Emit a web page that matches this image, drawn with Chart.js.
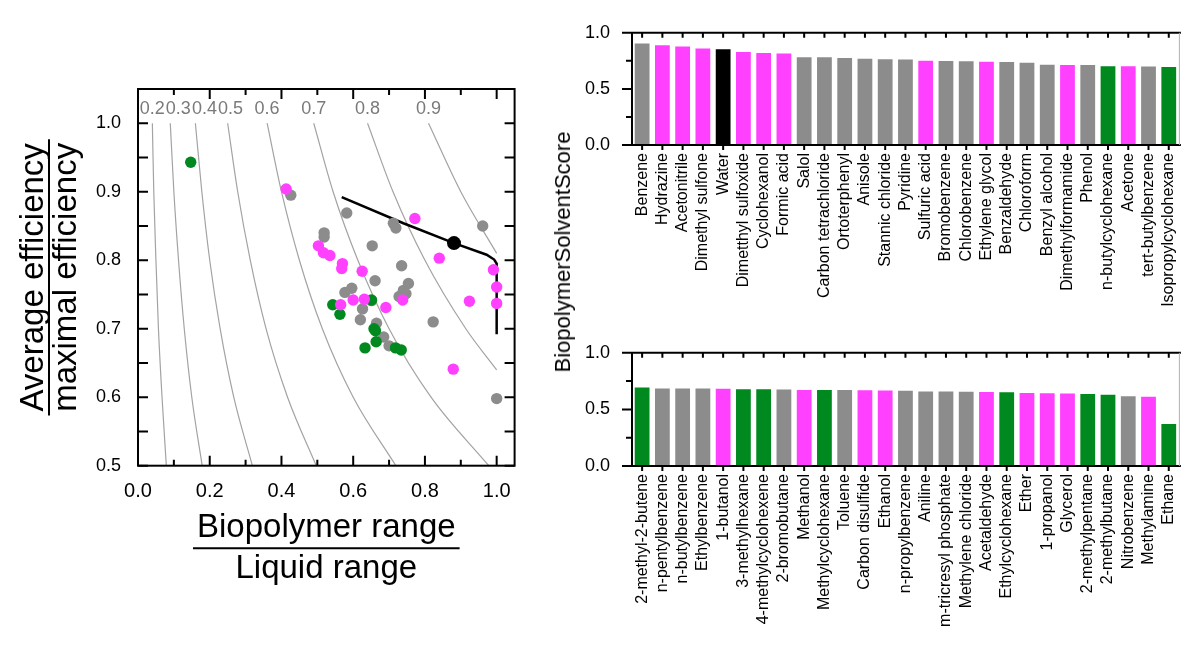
<!DOCTYPE html>
<html>
<head>
<meta charset="utf-8">
<title>Biopolymer solvent score</title>
<script src="https://cdn.jsdelivr.net/npm/chart.js@4.4.0/dist/chart.umd.min.js"></script>
<style>
    html, body { margin: 0; padding: 0; background: #fff; }
    body { width: 1196px; height: 646px; position: relative; overflow: hidden;
           font-family: "Liberation Sans", Arial, Helvetica, sans-serif; }
    canvas { position: absolute; }
    #scatterCanvas { left: 0; top: 0; }
    #topCanvas { left: 540px; top: 0; }
    #bottomCanvas { left: 540px; top: 320px; }
    #scoreTitle { position: absolute; left: 563px; top: 252px; font-size: 22px; white-space: nowrap;
                  transform: translate(-50%, -50%) rotate(-90deg); color: #000; }
</style>
</head>
<body>
<canvas id="scatterCanvas" width="560" height="646"></canvas>
<canvas id="topCanvas" width="656" height="320"></canvas>
<canvas id="bottomCanvas" width="656" height="326"></canvas>
<div id="scoreTitle">BiopolymerSolventScore</div>
<script>
// Scatter: x = biopolymer range / liquid range, y = average / maximal efficiency
const otherX = [0.426, 0.582, 0.712, 0.719, 0.961, 0.653, 0.519, 0.519, 0.735, 0.661, 0.754, 0.740,
                0.728, 0.747, 0.577, 0.596, 0.651, 0.626, 0.620, 0.665, 0.685, 0.700, 0.823, 1.000];
const otherY = [0.895, 0.869, 0.854, 0.847, 0.850, 0.821, 0.840, 0.834, 0.792, 0.770, 0.766, 0.756,
                0.747, 0.751, 0.753, 0.759, 0.741, 0.729, 0.713, 0.708, 0.688, 0.675, 0.710, 0.598];
const polarX = [0.413, 0.772, 0.503, 0.517, 0.535, 0.570, 0.568, 0.625, 0.840, 0.991, 1.000, 1.000,
                0.924, 0.565, 0.600, 0.631, 0.691, 0.738, 0.879];
const polarY = [0.904, 0.861, 0.821, 0.811, 0.807, 0.795, 0.788, 0.784, 0.803, 0.786, 0.761, 0.737,
                0.740, 0.735, 0.742, 0.743, 0.731, 0.742, 0.641];
const hydrocarbonX = [0.147, 0.543, 0.563, 0.651, 0.658, 0.662, 0.664, 0.633, 0.718, 0.734];
const hydrocarbonY = [0.943, 0.735, 0.721, 0.742, 0.700, 0.697, 0.681, 0.672, 0.672, 0.669];
const waterX = [0.881];
const waterY = [0.825];

// black boundary curve
const boundaryX = [0.568, 0.740, 0.881, 0.972, 0.993, 1.000, 1.000];
const boundaryY = [0.892, 0.854, 0.825, 0.808, 0.801, 0.795, 0.692];

// grey iso-score lines as [x, y]
const contourLevels = [0.2, 0.3, 0.4, 0.5, 0.6, 0.7, 0.8, 0.9];
const contourPaths = [
    [[0.040, 1.0], [0.044, 0.9], [0.050, 0.8], [0.057, 0.7], [0.067, 0.6], [0.079, 0.5]],
    [[0.090, 1.0], [0.100, 0.9], [0.113, 0.8], [0.129, 0.7], [0.150, 0.6], [0.179, 0.5]],
    [[0.160, 1.0], [0.178, 0.9], [0.200, 0.8], [0.229, 0.7], [0.267, 0.6], [0.319, 0.5]],
    [[0.250, 1.0], [0.278, 0.9], [0.313, 0.8], [0.357, 0.7], [0.417, 0.6], [0.497, 0.5]],
    [[0.360, 1.0], [0.400, 0.9], [0.450, 0.8], [0.514, 0.7], [0.600, 0.6], [0.719, 0.5]],
    [[0.490, 1.0], [0.544, 0.9], [0.613, 0.8], [0.700, 0.7], [0.817, 0.6], [0.978, 0.5]],
    [[0.640, 1.0], [0.711, 0.9], [0.800, 0.8], [0.914, 0.7], [1.000, 0.64]],
    [[0.810, 1.0], [0.900, 0.9], [1.000, 0.81]]
];

const xTicks = [0, 0.2, 0.4, 0.6, 0.8, 1.0];
const xMinorTicks = [0.1, 0.3, 0.5, 0.7, 0.9];
const yTicks = [0.5, 0.6, 0.7, 0.8, 0.9, 1.0];
const yMinorTicks = [0.55, 0.65, 0.75, 0.85, 0.95];

// Bar charts
const topSolvents = ["Benzene", "Hydrazine", "Acetonitrile", "Dimethyl sulfone", "Water",
    "Dimetthyl sulfoxide", "Cyclohexanol", "Formic acid", "Salol", "Carbon tetrachloride",
    "Ortoterphenyl", "Anisole", "Stannic chloride", "Pyridine", "Sulfuric acid", "Bromobenzene",
    "Chlorobenzene", "Ethylene glycol", "Benzaldehyde", "Chloroform", "Benzyl alcohol",
    "Dimethylformamide", "Phenol", "n-butylcyclohexane", "Acetone", "tert-butylbenzene",
    "Isopropylcyclohexane"];
const topScores = [0.905, 0.888, 0.877, 0.861, 0.853, 0.829, 0.821, 0.816, 0.781, 0.781,
    0.776, 0.768, 0.765, 0.763, 0.752, 0.749, 0.747, 0.741, 0.739, 0.733, 0.715,
    0.712, 0.712, 0.701, 0.701, 0.699, 0.696];
const topGroups = ["other", "polar", "polar", "polar", "water", "polar", "polar", "polar", "other",
    "other", "other", "other", "other", "other", "polar", "other", "other", "polar", "other",
    "other", "other", "polar", "other", "hydrocarbon", "polar", "other", "hydrocarbon"];

const bottomSolvents = ["2-methyl-2-butene", "n-pentylbenzene", "n-butylbenzene", "Ethylbenzene",
    "1-butanol", "3-methylhexane", "4-methylcyclohexene", "2-bromobutane", "Methanol",
    "Methylcyclohexane", "Toluene", "Carbon disulfide", "Ethanol", "n-propylbenzene", "Aniline",
    "m-tricresyl phosphate", "Methylene chloride", "Acetaldehyde", "Ethylcyclohexane", "Ether",
    "1-propanol", "Glycerol", "2-methylpentane", "2-methylbutane", "Nitrobenzene", "Methylamine",
    "Ethane"];
const bottomScores = [0.693, 0.685, 0.685, 0.685, 0.683, 0.677, 0.677, 0.675, 0.672, 0.672,
    0.672, 0.669, 0.667, 0.664, 0.659, 0.659, 0.656, 0.653, 0.651, 0.645, 0.643,
    0.640, 0.635, 0.629, 0.616, 0.611, 0.371];
const bottomGroups = ["hydrocarbon", "other", "other", "other", "polar", "hydrocarbon", "hydrocarbon",
    "other", "polar", "hydrocarbon", "other", "polar", "polar", "other", "other", "other", "other",
    "polar", "hydrocarbon", "polar", "polar", "polar", "hydrocarbon", "hydrocarbon", "other",
    "polar", "hydrocarbon"];

const scoreTicks = [0, 0.5, 1.0];
const scoreMinorTicks = [0.25, 0.75];

const groupColors = {
    other: '#8c8c8c',
    polar: '#ff40ff',
    hydrocarbon: '#00891f',
    water: '#000000'
};
const FONT = '"Liberation Sans", Arial, Helvetica, sans-serif';

function toPoints(xs, ys) {
    return xs.map((x, i) => ({ x: x, y: ys[i] }));
}

// frame, inward ticks, contour labels and fraction titles of the scatter plot
const scatterDecor = {
    id: 'scatterDecor',
    afterDraw(chart) {
        const ctx = chart.ctx;
        const a = chart.chartArea;
        const xs = chart.scales.x;
        const ys = chart.scales.y;
        ctx.save();
        ctx.strokeStyle = '#000';
        ctx.lineWidth = 2;
        ctx.strokeRect(a.left, a.top, a.right - a.left, a.bottom - a.top);

        ctx.beginPath();
        const xTick = (v, len) => {
            const px = xs.getPixelForValue(v);
            ctx.moveTo(px, a.bottom); ctx.lineTo(px, a.bottom - len);
            ctx.moveTo(px, a.top); ctx.lineTo(px, a.top + len);
        };
        xTicks.forEach(v => xTick(v, 10));
        xMinorTicks.forEach(v => xTick(v, 6));
        yTicks.concat(yMinorTicks).forEach(v => {
            const py = ys.getPixelForValue(v);
            ctx.moveTo(a.left, py); ctx.lineTo(a.left + 10, py);
            ctx.moveTo(a.right, py); ctx.lineTo(a.right - 10, py);
        });
        ctx.stroke();

        // contour labels, pushed right when they would overlap
        ctx.font = '18px ' + FONT;
        ctx.fillStyle = '#7a7a7a';
        ctx.textAlign = 'center';
        ctx.textBaseline = 'middle';
        const labelY = ys.getPixelForValue(1.0) - 14;
        let prevRight = -Infinity;
        contourLevels.forEach((lvl, i) => {
            const txt = lvl.toFixed(1);
            const w = ctx.measureText(txt).width;
            let cx = xs.getPixelForValue(contourPaths[i][0][0]);
            if (cx - w / 2 < prevRight + 1) cx = prevRight + 1 + w / 2;
            ctx.fillText(txt, cx, labelY);
            prevRight = cx + w / 2;
        });

        // axis titles as fractions
        ctx.fillStyle = '#000';
        ctx.font = '33px ' + FONT;
        ctx.textBaseline = 'alphabetic';
        const cx = (a.left + a.right) / 2;
        const w1 = ctx.measureText('Biopolymer range').width;
        ctx.fillText('Biopolymer range', cx, a.bottom + 71);
        ctx.fillText('Liquid range', cx, a.bottom + 112);
        ctx.lineWidth = 2;
        ctx.beginPath();
        ctx.moveTo(cx - w1 / 2 - 4, a.bottom + 82.5);
        ctx.lineTo(cx + w1 / 2 + 4, a.bottom + 82.5);
        ctx.stroke();

        const cy = (a.top + a.bottom) / 2;
        const w2 = ctx.measureText('Average efficiency').width;
        ctx.save();
        ctx.translate(43, cy);
        ctx.rotate(-Math.PI / 2);
        ctx.fillText('Average efficiency', 0, 0);
        ctx.restore();
        ctx.save();
        ctx.translate(76, cy);
        ctx.rotate(-Math.PI / 2);
        ctx.fillText('maximal efficiency', 0, 0);
        ctx.restore();
        ctx.beginPath();
        ctx.moveTo(49, cy - w2 / 2 - 4);
        ctx.lineTo(49, cy + w2 / 2 + 4);
        ctx.stroke();
        ctx.restore();
    }
};

const contourSets = contourPaths.map(path => ({
    data: path.map(p => ({ x: p[0], y: p[1] })),
    showLine: true,
    borderColor: '#a3a3a3',
    borderWidth: 1.2,
    pointRadius: 0,
    cubicInterpolationMode: 'monotone',
    order: 6
}));

new Chart(document.getElementById('scatterCanvas'), {
    type: 'scatter',
    data: {
        datasets: [
            { data: toPoints(waterX, waterY), backgroundColor: groupColors.water,
              pointRadius: 7, pointBorderWidth: 0, order: 0 },
            { data: toPoints(polarX, polarY), backgroundColor: groupColors.polar,
              pointRadius: 5.7, pointBorderWidth: 0, order: 1 },
            { data: toPoints(hydrocarbonX, hydrocarbonY), backgroundColor: groupColors.hydrocarbon,
              pointRadius: 5.7, pointBorderWidth: 0, order: 2 },
            { data: toPoints(otherX, otherY), backgroundColor: groupColors.other,
              pointRadius: 5.7, pointBorderWidth: 0, order: 3 },
            { data: toPoints(boundaryX, boundaryY), showLine: true, borderColor: '#000',
              borderWidth: 2.5, pointRadius: 0, tension: 0, order: 4 },
            ...contourSets
        ]
    },
    options: {
        responsive: false,
        animation: false,
        events: [],
        layout: { padding: { left: 0, top: 89, right: 45.4, bottom: 0 } },
        plugins: { legend: { display: false }, tooltip: { enabled: false } },
        scales: {
            x: {
                type: 'linear', min: 0, max: 1.05,
                grid: { display: false, drawTicks: false },
                border: { display: false },
                afterBuildTicks: s => { s.ticks = xTicks.map(v => ({ value: v })); },
                afterFit: s => { s.height = 180.3; },
                ticks: { color: '#000', padding: 14, font: { size: 20, family: FONT },
                         callback: v => v.toFixed(1) }
            },
            y: {
                type: 'linear', min: 0.5, max: 1.05,
                grid: { display: false, drawTicks: false },
                border: { display: false },
                afterBuildTicks: s => { s.ticks = yTicks.map(v => ({ value: v })); },
                afterFit: s => { s.width = 138; },
                ticks: { color: '#000', padding: 17, font: { size: 18, family: FONT },
                         callback: v => v.toFixed(1) }
            }
        }
    },
    plugins: [scatterDecor]
});

// frame and tick marks of the bar charts
const barDecor = {
    id: 'barDecor',
    afterDraw(chart) {
        const ctx = chart.ctx;
        const a = chart.chartArea;
        const xs = chart.scales.x;
        const ys = chart.scales.y;
        ctx.save();
        ctx.strokeStyle = '#000';
        ctx.lineWidth = 2;
        ctx.beginPath();
        ctx.moveTo(a.right + 2, a.top); ctx.lineTo(a.left, a.top);
        ctx.lineTo(a.left, a.bottom); ctx.lineTo(a.right + 2, a.bottom);
        for (let i = 0; i < xs.ticks.length; i++) {
            const px = xs.getPixelForTick(i);
            ctx.moveTo(px, a.top); ctx.lineTo(px, a.top + 5);
            ctx.moveTo(px, a.bottom); ctx.lineTo(px, a.bottom + 5);
        }
        scoreTicks.forEach(v => {
            const py = ys.getPixelForValue(v);
            ctx.moveTo(a.left, py); ctx.lineTo(a.left - 10, py);
        });
        scoreMinorTicks.forEach(v => {
            const py = ys.getPixelForValue(v);
            ctx.moveTo(a.left, py); ctx.lineTo(a.left - 6, py);
        });
        ctx.stroke();
        ctx.strokeStyle = '#b0b0b0';
        ctx.lineWidth = 1;
        ctx.beginPath();
        ctx.moveTo(a.right + 0.5, a.top); ctx.lineTo(a.right + 0.5, a.bottom);
        ctx.stroke();
        ctx.restore();
    }
};

function makeBarChart(canvasId, labels, values, groups, axisHeight) {
    return new Chart(document.getElementById(canvasId), {
        type: 'bar',
        data: {
            labels: labels,
            datasets: [{
                data: values,
                backgroundColor: groups.map(g => groupColors[g]),
                borderWidth: 0,
                barPercentage: 0.73,
                categoryPercentage: 1.0
            }]
        },
        options: {
            responsive: false,
            animation: false,
            events: [],
            layout: { padding: { left: 0, top: 20, right: 2, bottom: 0 } },
            plugins: { legend: { display: false }, tooltip: { enabled: false } },
            scales: {
                x: {
                    grid: { display: false, drawTicks: false },
                    border: { display: false },
                    afterFit: s => { s.height = axisHeight; },
                    ticks: { color: '#000', autoSkip: false, minRotation: 90, maxRotation: 90,
                             padding: 8, font: { size: 16, family: FONT } }
                },
                y: {
                    min: 0, max: 1,
                    grid: { display: false, drawTicks: false },
                    border: { display: false },
                    afterBuildTicks: s => { s.ticks = scoreTicks.map(v => ({ value: v })); },
                    afterFit: s => { s.width = 92; },
                    ticks: { color: '#000', padding: 22, font: { size: 18, family: FONT },
                             callback: v => v.toFixed(1) }
                }
            }
        },
        plugins: [barDecor]
    });
}

makeBarChart('topCanvas', topSolvents, topScores, topGroups, 175);
makeBarChart('bottomCanvas', bottomSolvents, bottomScores, bottomGroups, 180);
</script>
</body>
</html>
